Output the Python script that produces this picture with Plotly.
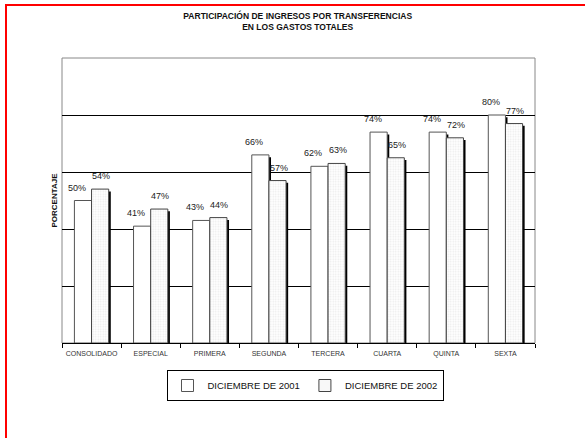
import plotly.graph_objects as go

categories = ["CONSOLIDADO", "ESPECIAL", "PRIMERA", "SEGUNDA", "TERCERA", "CUARTA", "QUINTA", "SEXTA"]
dic_2001 = [50, 41, 43, 66, 62, 74, 74, 80]
dic_2002 = [54, 47, 44, 57, 63, 65, 72, 77]
series_names = ["DICIEMBRE DE 2001", "DICIEMBRE DE 2002"]

W, H = 586, 439
L, R, T, B = 62, 51, 58, 96
pw, ph = W - L - R, H - T - B

bw = 0.29
sh_x = 0.035
sh_y = 0.8
cat_px = pw / len(categories)

fig = go.Figure()

# shadows
for vals, off in [(dic_2001, -bw), (dic_2002, 0)]:
    fig.add_trace(go.Bar(
        x=categories, y=[v - sh_y for v in vals], offset=off + sh_x, width=bw,
        marker=dict(color="black", line=dict(width=0)),
        showlegend=False, hoverinfo="skip"))

fig.add_trace(go.Bar(
    x=categories, y=dic_2001, name=series_names[0], offset=-bw, width=bw,
    marker=dict(color="white", line=dict(color="#555555", width=1))))
fig.add_trace(go.Bar(
    x=categories, y=dic_2002, name=series_names[1], offset=0, width=bw,
    marker=dict(color="white", line=dict(color="#444444", width=1),
                pattern=dict(shape=".", fgcolor="#d4d4d4", bgcolor="white", size=2.5, solidity=0.35))))

annotations = []
lbl_font = dict(size=9, color="#222222", family="Liberation Sans, Arial")
for c, v in zip(categories, dic_2001):
    annotations.append(dict(x=c, y=v, xref="x", yref="y", text=f"{v}%", showarrow=False,
                            xshift=-bw / 2 * cat_px - 6, yshift=13, yanchor="middle", font=lbl_font))
for c, v in zip(categories, dic_2002):
    annotations.append(dict(x=c, y=v, xref="x", yref="y", text=f"{v}%", showarrow=False,
                            xshift=bw / 2 * cat_px + 1, yshift=13, yanchor="middle", font=lbl_font))

fig.update_layout(
    width=W, height=H,
    margin=dict(l=L, r=R, t=T, b=B, autoexpand=False),
    barmode="overlay",
    paper_bgcolor="white", plot_bgcolor="white",
    font=dict(family="Liberation Sans, Arial", color="black"),
    title=dict(text="<b>PARTICIPACIÓN DE INGRESOS POR TRANSFERENCIAS<br>EN LOS GASTOS TOTALES</b>",
               x=0.508, xanchor="center", y=1 - 19 / H, yanchor="top",
               font=dict(size=8.5, color="#111111")),
    xaxis=dict(type="category", showline=True, linecolor="black", linewidth=1,
               ticks="outside", tickson="boundaries", ticklen=4, tickcolor="black",
               tickangle=0, automargin=False, ticklabelstandoff=4,
               tickfont=dict(size=7, color="#333333"), showgrid=False, zeroline=False),
    yaxis=dict(range=[0, 100], tickvals=[20, 40, 60, 80], showticklabels=False,
               showgrid=True, gridcolor="black", gridwidth=1, zeroline=False,
               showline=False, ticks="", automargin=False,
               title=dict(text="<b>PORCENTAJE</b>", font=dict(size=8, color="#111111"), standoff=2)),
    legend=dict(orientation="h", x=(305 - L) / pw, xanchor="center",
                y=(T + ph - 370) / ph, yanchor="top",
                bordercolor="black", borderwidth=1,
                font=dict(size=9.5, color="#111111"), itemwidth=30,
                tracegroupgap=0),
    annotations=annotations,
    shapes=[
        dict(type="rect", xref="paper", yref="paper", x0=0, x1=1, y0=0, y1=1,
             line=dict(color="#888888", width=1), layer="below"),
        dict(type="line", xref="paper", yref="paper",
             x0=(6 - L) / pw, x1=(6 - L) / pw, y0=(T + ph - 4) / ph, y1=(T + ph - H + 1) / ph,
             line=dict(color="red", width=2)),
        dict(type="line", xref="paper", yref="paper",
             x0=(5 - L) / pw, x1=(W - 1 - L) / pw, y0=(T + ph - 5) / ph, y1=(T + ph - 5) / ph,
             line=dict(color="red", width=2)),
    ],
)

fig.write_html("out.html", config={"displayModeBar": False},
               post_script="document.body.style.margin='0';document.body.style.padding='0';")
